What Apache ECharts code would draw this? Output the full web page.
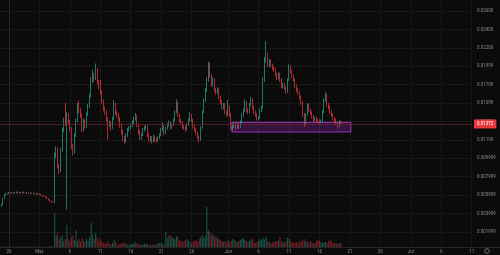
<!DOCTYPE html>
<html><head><meta charset="utf-8">
<script src="https://cdn.jsdelivr.net/npm/echarts@6/dist/echarts.min.js"></script>
<style>html,body{margin:0;padding:0;background:#0b0b0b}#c{width:500px;height:255px}</style>
</head><body><div id="c"></div>
<script>
// time of first candle in days from Apr 26 00:00, candle step = 6 hours
const candleStartDay = -1.25;
const candleStepDays = 0.25;
// [open, close, low, high]
const candles = [
[0.00480,0.00495,0.00472,0.00502],[0.00495,0.00560,0.00490,0.00566],[0.00560,0.00600,0.00555,0.00608],[0.00600,0.00618,0.00596,0.00626],
[0.00618,0.00612,0.00605,0.00624],[0.00612,0.00625,0.00608,0.00634],[0.00625,0.00620,0.00614,0.00630],[0.00620,0.00628,0.00616,0.00636],
[0.00628,0.00618,0.00612,0.00632],[0.00618,0.00624,0.00613,0.00630],[0.00624,0.00632,0.00620,0.00640],[0.00632,0.00622,0.00616,0.00636],
[0.00622,0.00628,0.00618,0.00635],[0.00628,0.00618,0.00612,0.00632],[0.00618,0.00630,0.00615,0.00638],[0.00630,0.00624,0.00618,0.00634],
[0.00624,0.00620,0.00614,0.00629],[0.00620,0.00626,0.00616,0.00633],[0.00626,0.00617,0.00611,0.00630],[0.00617,0.00622,0.00612,0.00628],
[0.00622,0.00615,0.00609,0.00626],[0.00615,0.00620,0.00611,0.00626],[0.00620,0.00612,0.00606,0.00624],[0.00612,0.00616,0.00607,0.00622],
[0.00616,0.00606,0.00600,0.00620],[0.00606,0.00610,0.00601,0.00616],[0.00610,0.00598,0.00592,0.00614],[0.00598,0.00590,0.00584,0.00602],
[0.00590,0.00585,0.00579,0.00596],[0.00585,0.00578,0.00571,0.00590],[0.00578,0.00560,0.00553,0.00582],[0.00560,0.00548,0.00542,0.00564],
[0.00548,0.00535,0.00528,0.00552],[0.00535,0.00528,0.00522,0.00540],[0.00528,0.00522,0.00515,0.00532],
[0.00522,0.0103,0.0051,0.0106],[0.0103,0.0110,0.0100,0.0113],[0.0110,0.0091,0.0089,0.0112],[0.0091,0.0086,0.0083,0.0094],
[0.0086,0.0109,0.0085,0.0111],[0.0109,0.0130,0.0107,0.0133],[0.0130,0.0141,0.0128,0.0144],[0.0141,0.0138,0.0135,0.0160],
[0.0138,0.0146,0.0044,0.0150],[0.0146,0.0140,0.0137,0.0149],[0.0140,0.0132,0.0129,0.0142],[0.0132,0.0112,0.0110,0.0134],
[0.0112,0.0106,0.0103,0.0115],[0.0106,0.0125,0.0105,0.0127],[0.0125,0.0141,0.0123,0.0143],[0.0141,0.0158,0.0139,0.0160],
[0.0158,0.0152,0.0149,0.0163],[0.0152,0.0147,0.0144,0.0155],[0.0147,0.0131,0.0128,0.0149],[0.0131,0.0140,0.0129,0.0143],
[0.0140,0.0134,0.0132,0.0142],[0.0134,0.0148,0.0133,0.0150],[0.0148,0.0157,0.0146,0.0159],[0.0157,0.0168,0.0155,0.0170],
[0.0168,0.0185,0.0166,0.0188],[0.0185,0.0190,0.0182,0.0196],[0.0190,0.0187,0.0183,0.0193],[0.0187,0.0196,0.0185,0.0203],
[0.0196,0.0182,0.0180,0.0198],[0.0182,0.0178,0.0175,0.0185],[0.0178,0.0172,0.0169,0.0185],[0.0172,0.0162,0.0159,0.0174],
[0.0162,0.0154,0.0151,0.0164],[0.0154,0.0150,0.0147,0.0156],[0.0150,0.0143,0.0140,0.0152],[0.0143,0.0136,0.0120,0.0145],
[0.0136,0.0138,0.0134,0.0141],[0.0138,0.0133,0.0130,0.0140],[0.0133,0.0143,0.0132,0.0145],[0.0143,0.0158,0.0142,0.0163],
[0.0158,0.0150,0.0147,0.0160],[0.0150,0.0147,0.0144,0.0152],[0.0147,0.0143,0.0140,0.0149],[0.0143,0.0136,0.0133,0.0145],
[0.0136,0.0129,0.0126,0.0138],[0.0129,0.0122,0.0119,0.0131],[0.0122,0.0118,0.0116,0.0124],[0.0118,0.0125,0.0117,0.0127],
[0.0125,0.0131,0.0123,0.0133],[0.0131,0.0133,0.0129,0.0135],[0.0133,0.0136,0.0131,0.0138],[0.0136,0.0139,0.0134,0.0141],
[0.0139,0.0143,0.0137,0.0145],[0.0143,0.0146,0.0141,0.0149],[0.0146,0.0136,0.0134,0.0147],[0.0136,0.0128,0.0126,0.0138],
[0.0128,0.0122,0.0120,0.0130],[0.0122,0.0125,0.0120,0.0127],[0.0125,0.0131,0.0124,0.0133],[0.0131,0.0133,0.0129,0.0135],
[0.0133,0.0134,0.0131,0.0137],[0.0134,0.0125,0.0123,0.0136],[0.0125,0.0120,0.0118,0.0127],[0.0120,0.0122,0.0118,0.0124],
[0.0122,0.0118,0.0116,0.0124],[0.0118,0.0123,0.0117,0.0125],[0.0123,0.0120,0.0118,0.0125],[0.0120,0.0119,0.0117,0.0122],
[0.0119,0.0122,0.0118,0.0124],[0.0122,0.0125,0.0121,0.0127],[0.0125,0.0131,0.0124,0.0133],[0.0131,0.0134,0.0129,0.0139],
[0.0134,0.0127,0.0125,0.0136],[0.0127,0.0132,0.0126,0.0134],[0.0132,0.0136,0.0131,0.0138],[0.0136,0.0139,0.0134,0.0141],
[0.0139,0.0133,0.0131,0.0140],[0.0133,0.0136,0.0132,0.0138],[0.0136,0.0141,0.0135,0.0143],[0.0141,0.0150,0.0140,0.0152],
[0.0150,0.0160,0.0149,0.0164],[0.0160,0.0147,0.0145,0.0161],[0.0147,0.0141,0.0139,0.0149],[0.0141,0.0138,0.0136,0.0143],
[0.0138,0.0134,0.0132,0.0140],[0.0134,0.0133,0.0131,0.0136],[0.0133,0.0131,0.0129,0.0135],[0.0131,0.0136,0.0130,0.0138],
[0.0136,0.0141,0.0135,0.0143],[0.0141,0.0147,0.0140,0.0150],[0.0147,0.0141,0.0139,0.0148],[0.0141,0.0134,0.0132,0.0143],
[0.0134,0.0131,0.0129,0.0136],[0.0131,0.0127,0.0125,0.0133],[0.0127,0.0123,0.0121,0.0129],[0.0123,0.0120,0.0117,0.0125],
[0.0120,0.0133,0.0119,0.0135],[0.0133,0.0150,0.0132,0.0152],[0.0150,0.0163,0.0149,0.0165],[0.0163,0.0174,0.0161,0.0176],
[0.0174,0.0185,0.0172,0.0188],[0.0185,0.0196,0.0183,0.0205],[0.0196,0.0190,0.0187,0.0204],[0.0190,0.0180,0.0178,0.0192],
[0.0180,0.0185,0.0178,0.0188],[0.0185,0.0174,0.0172,0.0187],[0.0174,0.0172,0.0169,0.0176],[0.0172,0.0174,0.0170,0.0177],
[0.0174,0.0166,0.0164,0.0176],[0.0166,0.0161,0.0158,0.0168],[0.0161,0.0155,0.0153,0.0163],[0.0155,0.0158,0.0153,0.0160],
[0.0158,0.0150,0.0148,0.0160],[0.0150,0.0147,0.0145,0.0152],[0.0147,0.0157,0.0146,0.0163],[0.0157,0.0147,0.0145,0.0158],
[0.0147,0.0133,0.0131,0.0149],[0.0133,0.0135,0.0130,0.0137],[0.0135,0.0137,0.0133,0.0139],[0.0137,0.0133,0.0131,0.0139],
[0.0133,0.0136,0.0132,0.0138],[0.0136,0.0134,0.0132,0.0138],[0.0134,0.0139,0.0133,0.0141],[0.0139,0.0147,0.0138,0.0149],
[0.0147,0.0152,0.0145,0.0154],[0.0152,0.0161,0.0150,0.0164],[0.0161,0.0152,0.0150,0.0162],[0.0152,0.0150,0.0148,0.0154],
[0.0150,0.0158,0.0149,0.0160],[0.0158,0.0164,0.0157,0.0167],[0.0164,0.0155,0.0153,0.0165],[0.0155,0.0150,0.0148,0.0157],
[0.0150,0.0147,0.0145,0.0152],[0.0147,0.0143,0.0141,0.0149],[0.0143,0.0144,0.0141,0.0146],[0.0144,0.0152,0.0143,0.0154],
[0.0152,0.0155,0.0150,0.0157],[0.0155,0.0185,0.0154,0.0188],[0.0185,0.0207,0.0183,0.0210],[0.0207,0.0212,0.0204,0.0227],
[0.0212,0.0201,0.0199,0.0215],[0.0201,0.0205,0.0199,0.0208],[0.0205,0.0201,0.0199,0.0207],[0.0201,0.0198,0.0196,0.0203],
[0.0198,0.0196,0.0194,0.0200],[0.0196,0.0191,0.0189,0.0198],[0.0191,0.0187,0.0185,0.0193],[0.0187,0.0191,0.0186,0.0193],
[0.0191,0.0185,0.0183,0.0193],[0.0185,0.0178,0.0176,0.0187],[0.0178,0.0180,0.0176,0.0182],[0.0180,0.0176,0.0174,0.0182],
[0.0176,0.0172,0.0170,0.0178],[0.0172,0.0185,0.0171,0.0187],[0.0185,0.0199,0.0184,0.0202],[0.0199,0.0194,0.0192,0.0201],
[0.0194,0.0189,0.0187,0.0196],[0.0189,0.0185,0.0183,0.0191],[0.0185,0.0178,0.0176,0.0187],[0.0178,0.0174,0.0172,0.0180],
[0.0174,0.0171,0.0169,0.0176],[0.0171,0.0166,0.0164,0.0173],[0.0166,0.0160,0.0158,0.0168],[0.0160,0.0147,0.0145,0.0162],
[0.0147,0.0137,0.0134,0.0149],[0.0137,0.0147,0.0136,0.0149],[0.0147,0.0157,0.0146,0.0160],[0.0157,0.0152,0.0150,0.0159],
[0.0152,0.0149,0.0147,0.0154],[0.0149,0.0145,0.0143,0.0151],[0.0145,0.0141,0.0139,0.0147],[0.0141,0.0143,0.0140,0.0145],
[0.0143,0.0141,0.0139,0.0145],[0.0141,0.0140,0.0138,0.0143],[0.0140,0.0139,0.0137,0.0142],[0.0139,0.0140,0.0138,0.0142],
[0.0140,0.0150,0.0139,0.0152],[0.0150,0.0163,0.0149,0.0165],[0.0163,0.0169,0.0161,0.0172],[0.0169,0.0158,0.0156,0.0170],
[0.0158,0.0155,0.0153,0.0160],[0.0155,0.0150,0.0148,0.0157],[0.0150,0.0147,0.0145,0.0152],[0.0147,0.0143,0.0141,0.0149],
[0.0143,0.0141,0.0139,0.0145],[0.0141,0.0138,0.0136,0.0143],[0.0138,0.0135,0.0132,0.0140],[0.0135,0.0139,0.0134,0.0141],
[0.0139,0.01372,0.0136,0.0141]
];
const volumes = [
4,6,5,3,4,3,5,3,4,3,5,4,3,4,3,5,3,4,3,4,3,5,3,4,3,4,3,5,4,3,5,4,6,5,4,
340,120,150,80,100,120,60,80,220,80,50,100,120,70,170,60,80,50,90,60,50,80,60,100,240,120,80,140,100,60,80,
50,40,35,30,60,30,25,40,70,50,30,25,30,40,35,45,30,25,20,25,30,35,50,40,30,25,20,25,30,35,30,25,20,25,20,25,30,35,40,45,30,25,
150,90,110,120,100,90,80,110,100,70,60,
50,60,70,80,60,50,40,60,
60,70,50,80,100,120,90,110,400,170,
150,120,130,100,110,90,80,70,60,
50,60,40,70,50,60,80,70,60,50,60,70,80,90,70,
60,50,60,70,90,50,40,50,60,80,70,90,80,100,60,
50,40,45,50,60,55,70,100,60,50,40,60,90,80,60,50,40,45,50,40,60,50,70,80,60,50,40,60,50,40,35,60,70,60,50,40,45,50,40,60,70,50,40,35,40,30,35,40
];
// x tick positions in days from Apr 26 00:00
const xTickDays = [0,5,10,15,20,25,30,36,41,46,51,56,61,66,71,76];
const xTickLabels = ['26','May','6','11','16','21','26','Jun','6','11','16','21','26','Jul','6','11'];
const yTickValues = [0.026,0.024,0.022,0.020,0.018,0.016,0.014,0.012,0.010,0.008,0.006,0.004,0.002];
const yTickLabels = ['0.02600','0.02400','0.02200','0.01999','0.01799','0.01599','0.01399','0.01199','0.009999','0.007999','0.005999','0.003999','0.001999'];
const lastPrice = 0.01372;
const lastPriceLabel = '0.01372';
const zoneFromDay = 36.6, zoneToDay = 56.16, zoneTop = 0.0139, zoneBottom = 0.01285;

const UP = '#22ab94', DOWN = '#f23645';
const GRID = '#181818', TXT = '#8c8c8c';
const X_MIN = -1.475, X_MAX = 76.05;

const candleData = candles.map((c, k) => [candleStartDay + k * candleStepDays, c[0], c[1], c[2], c[3]]);
const volData = volumes.map((v, k) => ({
  value: [candleStartDay + k * candleStepDays, v],
  itemStyle: { color: candles[k][1] >= candles[k][0] ? 'rgba(34,171,148,0.5)' : 'rgba(242,54,69,0.5)' }
}));
function xLabel(v) { const i = xTickDays.findIndex(d => Math.abs(d - v) < 1e-6); return i >= 0 ? xTickLabels[i] : ''; }
function yLabel(v) { const i = yTickValues.findIndex(d => Math.abs(d - v) < 1e-9); return i >= 0 ? yTickLabels[i] : ''; }

const chart = echarts.init(document.getElementById('c'), null, { renderer: 'canvas' });
chart.setOption({
  animation: false,
  backgroundColor: '#0b0b0b',
  grid: [
    { left: 0, right: 28, top: 0, bottom: 8 },
    { left: 0, right: 28, top: 200, bottom: 8 }
  ],
  xAxis: [
    { type: 'value', gridIndex: 0, min: X_MIN, max: X_MAX,
      axisLine: { show: false }, axisTick: { show: false, customValues: xTickDays },
      axisLabel: { show: false, customValues: xTickDays },
      splitLine: { show: true, lineStyle: { color: GRID, width: 1 } } },
    { type: 'value', gridIndex: 1, min: X_MIN, max: X_MAX,
      axisLine: { show: true, lineStyle: { color: '#262626', width: 1 } },
      axisTick: { show: false, customValues: xTickDays },
      axisLabel: { customValues: xTickDays, formatter: xLabel, color: TXT, fontSize: 4.5, fontFamily: 'Roboto', margin: 2 },
      splitLine: { show: false } }
  ],
  yAxis: [
    { type: 'value', gridIndex: 0, position: 'right', min: 0.000348, max: 0.027196,
      axisLine: { show: true, lineStyle: { color: '#262626', width: 1 } },
      axisTick: { show: false, customValues: yTickValues },
      axisLabel: { customValues: yTickValues, formatter: yLabel, color: TXT, fontSize: 4.5, fontFamily: 'Roboto', margin: 5 },
      splitLine: { show: true, lineStyle: { color: GRID, width: 1 } } },
    { type: 'value', gridIndex: 1, min: 0, max: 470, show: false }
  ],
  series: [
    { type: 'bar', xAxisIndex: 1, yAxisIndex: 1, barWidth: 1, data: volData, silent: true },
    { type: 'candlestick', xAxisIndex: 0, yAxisIndex: 0, data: candleData,
      encode: { x: 0, y: [1, 2, 3, 4] }, barWidth: 0.8,
      itemStyle: { color: UP, color0: DOWN, borderColor: UP, borderColor0: DOWN, borderWidth: 0.7 },
      markArea: { silent: true,
        itemStyle: { color: 'rgba(120,36,150,0.38)', borderColor: '#9c36b5', borderWidth: 1 },
        data: [[{ xAxis: zoneFromDay, yAxis: zoneTop }, { xAxis: zoneToDay, yAxis: zoneBottom }]] } },
    { type: 'line', xAxisIndex: 0, yAxisIndex: 0, data: [], silent: true,
      markLine: { silent: true, symbol: 'none', precision: 6,
        lineStyle: { color: '#6e2024', type: 'solid', width: 0.8 },
        label: { show: true, position: 'end', formatter: lastPriceLabel, color: '#fff', backgroundColor: '#e8393f',
          fontSize: 4.5, fontFamily: 'Roboto', padding: [2, 3, 2, 3], distance: 2 },
        data: [{ yAxis: lastPrice }] } }
  ],
  graphic: [
    { type: 'line', shape: { x1: 472, y1: 247.5, x2: 500, y2: 247.5 }, style: { stroke: '#262626', lineWidth: 1 } },
    { type: 'circle', shape: { cx: 487, cy: 251, r: 2.3 }, style: { fill: 'none', stroke: '#8c8c8c', lineWidth: 0.8 } }
  ]
});
</script></body></html>
